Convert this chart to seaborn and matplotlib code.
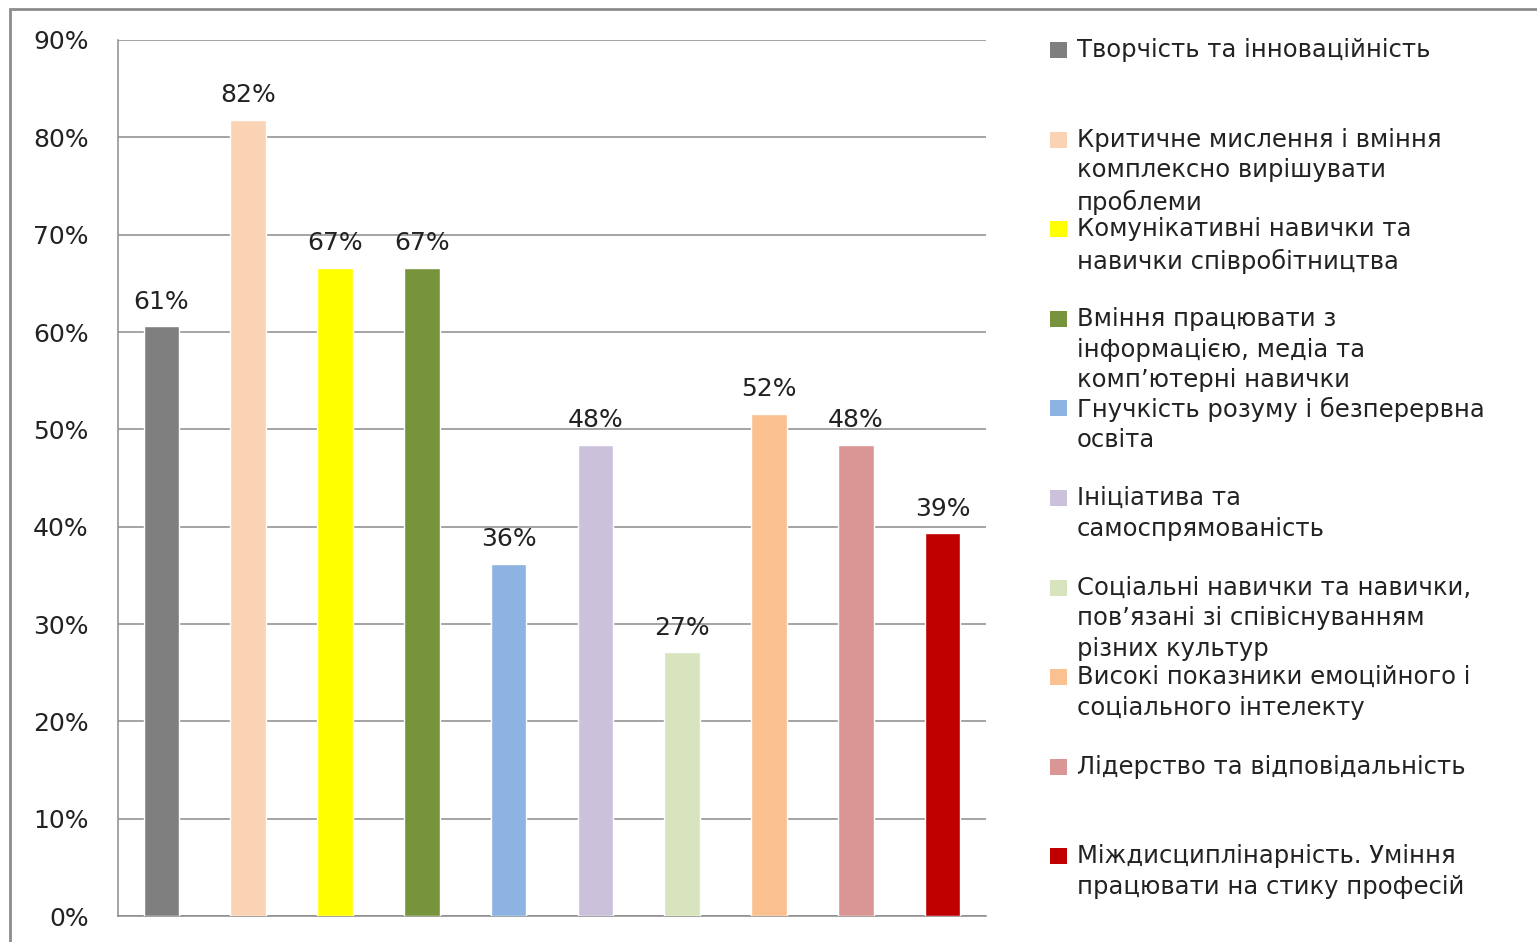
import matplotlib
matplotlib.use("Agg")
import matplotlib.pyplot as plt
import seaborn as sns
import pandas as pd
from matplotlib.patches import Rectangle

categories = [
    "Творчість та інноваційність",
    "Критичне мислення і вміння\nкомплексно вирішувати\nпроблеми",
    "Комунікативні навички та\nнавички співробітництва",
    "Вміння працювати з\nінформацією, медіа та\nкомп’ютерні навички",
    "Гнучкість розуму і безперервна\nосвіта",
    "Ініціатива та\nсамоспрямованість",
    "Соціальні навички та навички,\nпов’язані зі співіснуванням\nрізних культур",
    "Високі показники емоційного і\nсоціального інтелекту",
    "Лідерство та відповідальність",
    "Міждисциплінарність. Уміння\nпрацювати на стику професій",
]
values = [60.6, 81.8, 66.6, 66.6, 36.2, 48.4, 27.1, 51.6, 48.4, 39.3]
colors = ["#7F7F7F", "#FAD3B4", "#FFFF00", "#77933C", "#8DB3E2",
          "#CCC1DA", "#D7E4BD", "#FAC090", "#D99694", "#C00000"]
yticks = [0, 10, 20, 30, 40, 50, 60, 70, 80, 90]

sns.set_theme(style="white")
plt.rcParams['font.family'] = ['DejaVu Sans']

W, H = 1537, 942
fig = plt.figure(figsize=(W / 100, H / 100), dpi=100)
ax = fig.add_axes([118 / W, 1 - 916 / H, (986 - 118) / W, (916 - 40) / H])

df = pd.DataFrame({"cat": categories, "val": values})
sns.barplot(data=df, x="cat", y="val", hue="cat", palette=colors,
            legend=False, width=0.41, ax=ax, saturation=1, zorder=3)

for c in ax.containers:
    ax.bar_label(c, labels=[f"{v:.0f}%" for v in c.datavalues],
                 padding=9, fontsize=18, color="#222222")

ax.set_ylim(0, 90)
ax.set_xlim(-0.5, len(categories) - 0.5)
ax.set_yticks(yticks)
ax.set_yticklabels([f"{t}%" for t in yticks], fontsize=18, color="#222222")
ax.tick_params(axis="y", length=0, pad=21)
ax.set_xticks([])
ax.set_xlabel("")
ax.set_ylabel("")
ax.yaxis.grid(True, color="#8C8C8C", linewidth=1.1, zorder=0)
ax.set_axisbelow(True)
for s in ["top", "right"]:
    ax.spines[s].set_visible(False)
for s in ["left", "bottom"]:
    ax.spines[s].set_color("#8C8C8C")
    ax.spines[s].set_linewidth(1.1)

# outer chart frame
fig.patches.append(Rectangle((10 / W, -0.05), 1.1, 1 - 9 / H + 0.05,
                             transform=fig.transFigure, fill=False,
                             edgecolor="#8C8C8C", linewidth=2, zorder=0))

# legend
y0, step = 50, 89.6
for i, (lab, col) in enumerate(zip(categories, colors)):
    yc = y0 + step * i
    fig.patches.append(Rectangle((1050 / W, 1 - (yc + 8) / H), 17 / W, 16 / H,
                                 transform=fig.transFigure, facecolor=col,
                                 edgecolor="none"))
    fig.text(1077 / W, 1 - (yc - 12) / H, lab, fontsize=17.5, color="#222222",
             va="top", ha="left", linespacing=1.36)

fig.savefig("out.png", dpi=100)
